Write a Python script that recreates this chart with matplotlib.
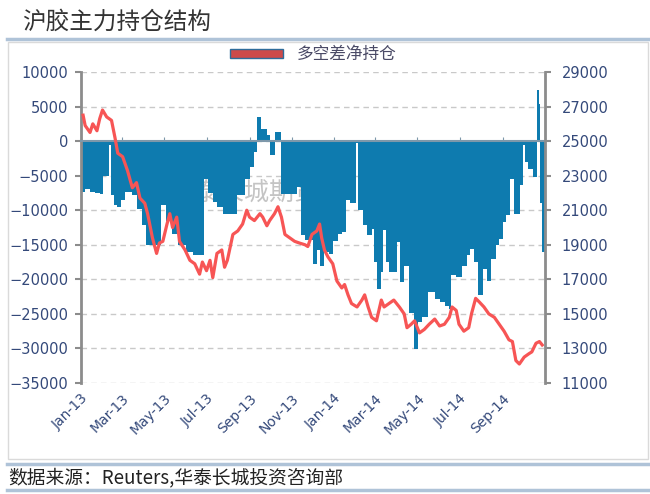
import matplotlib
matplotlib.use('Agg')
import matplotlib.pyplot as plt
import matplotlib.dates as mdates
from matplotlib.patches import Patch, Rectangle
from matplotlib.lines import Line2D
import pandas as pd

plt.rcParams['font.family'] = ['DejaVu Sans', 'Noto Sans CJK SC']

title = '沪胶主力持仓结构'
source = '数据来源：Reuters,华泰长城投资咨询部'
legend_label = '多空差净持仓'
watermark = '华泰长城期货'

# net position (left axis), value holds from each date to the next
net_dates = ['2013-01-01', '2013-01-07', '2013-01-14', '2013-01-21', '2013-01-28', '2013-02-01',
             '2013-02-11', '2013-02-13', '2013-02-18', '2013-02-22', '2013-02-27', '2013-03-06',
             '2013-03-16', '2013-03-23', '2013-03-30', '2013-04-05', '2013-04-27', '2013-05-03',
             '2013-05-12', '2013-05-21', '2013-06-02', '2013-06-12', '2013-06-28', '2013-07-03',
             '2013-07-10', '2013-07-16', '2013-07-25', '2013-08-14', '2013-08-25', '2013-09-01',
             '2013-09-08', '2013-09-12', '2013-09-18', '2013-09-26', '2013-09-30', '2013-10-07',
             '2013-10-16', '2013-11-09', '2013-11-14', '2013-11-20', '2013-12-01', '2013-12-07',
             '2013-12-12', '2013-12-17', '2013-12-24', '2013-12-31', '2014-01-07', '2014-01-12',
             '2014-01-18', '2014-01-24', '2014-02-01', '2014-02-04', '2014-02-11', '2014-02-18',
             '2014-02-24', '2014-02-27', '2014-03-04', '2014-03-09', '2014-03-13', '2014-03-17',
             '2014-03-21', '2014-04-01', '2014-04-06', '2014-04-12', '2014-04-19', '2014-04-26',
             '2014-05-02', '2014-05-08', '2014-05-17', '2014-05-26', '2014-06-02', '2014-06-10',
             '2014-06-15', '2014-06-18', '2014-06-25', '2014-07-05', '2014-07-11', '2014-07-16',
             '2014-07-21', '2014-07-27', '2014-08-03', '2014-08-09', '2014-08-15', '2014-08-22',
             '2014-08-27', '2014-09-01', '2014-09-06', '2014-09-11', '2014-09-17', '2014-09-26',
             '2014-10-01', '2014-10-03', '2014-10-08', '2014-10-14', '2014-10-20', '2014-10-23',
             '2014-10-25', '2014-10-28']
net_values = [-7400, -7000, -7300, -7500, -7700, -5000,
              -500, -7800, -9300, -9600, -8500, -7400,
              -7800, -9800, -12200, -15000, -9300, -11500,
              -13500, -15000, -16000, -16500, -5500, -7500,
              -8800, -9600, -10500, -7800, -5500, -3800,
              -1600, 3500, 1800, 900, -2000, 1300,
              -7700, -6700, -13600, -14300, -17800, -15700,
              -18000, -16000, -16300, -14500, -13500, -13200,
              -8500, -9000, -300, -10000, -12200, -13600,
              -12700, -17500, -21400, -19000, -12900, -17500,
              -19000, -14600, -20400, -18000, -24800, -30100,
              -26200, -25500, -21900, -22900, -23300, -23800,
              -24300, -19400, -19600, -18000, -16500, -15600,
              -17500, -22300, -18500, -20200, -17100, -15100,
              -14200, -11700, -10700, -5500, -10600, -6400,
              -500, -3000, -4000, -5200, 7400, 5400,
              -9000, -16000]

# rubber price (right axis)
price_dates = ['2013-01-04', '2013-01-07', '2013-01-14', '2013-01-18', '2013-01-24', '2013-01-28',
               '2013-02-01', '2013-02-07', '2013-02-14', '2013-02-19', '2013-02-23', '2013-03-02',
               '2013-03-09', '2013-03-16', '2013-03-22', '2013-03-27', '2013-04-03', '2013-04-07',
               '2013-04-14', '2013-04-20', '2013-04-24', '2013-04-29', '2013-05-05', '2013-05-09',
               '2013-05-13', '2013-05-19', '2013-05-23', '2013-05-31', '2013-06-07', '2013-06-14',
               '2013-06-21', '2013-06-25', '2013-07-01', '2013-07-06', '2013-07-10', '2013-07-16',
               '2013-07-23', '2013-07-27', '2013-07-31', '2013-08-08', '2013-08-15', '2013-08-22',
               '2013-08-28', '2013-09-01', '2013-09-08', '2013-09-16', '2013-09-20', '2013-09-26',
               '2013-09-30', '2013-10-07', '2013-10-12', '2013-10-17', '2013-10-22', '2013-10-29',
               '2013-11-05', '2013-11-12', '2013-11-20', '2013-11-24', '2013-11-30', '2013-12-07',
               '2013-12-11', '2013-12-14', '2013-12-18', '2013-12-23', '2013-12-30', '2014-01-05',
               '2014-01-12', '2014-01-16', '2014-01-21', '2014-01-26', '2014-02-03', '2014-02-10',
               '2014-02-14', '2014-02-19', '2014-02-24', '2014-03-03', '2014-03-10', '2014-03-14',
               '2014-03-21', '2014-03-28', '2014-04-05', '2014-04-12', '2014-04-16', '2014-04-22',
               '2014-04-27', '2014-05-04', '2014-05-11', '2014-05-18', '2014-05-26', '2014-06-02',
               '2014-06-09', '2014-06-16', '2014-06-20', '2014-06-26', '2014-06-30', '2014-07-07',
               '2014-07-14', '2014-07-18', '2014-07-24', '2014-07-29', '2014-08-05', '2014-08-12',
               '2014-08-20', '2014-08-27', '2014-09-03', '2014-09-10', '2014-09-15', '2014-09-20',
               '2014-09-25', '2014-10-02', '2014-10-09', '2014-10-13', '2014-10-19', '2014-10-24',
               '2014-10-28']
price_values = [26500, 25900, 25500, 26000, 25600, 26300,
                26800, 26400, 26200, 25200, 24300, 24100,
                23300, 22300, 22600, 21700, 21400, 20800,
                19400, 18500, 19100, 19200, 20200, 20800,
                20000, 20600, 19200, 18700, 18100, 17900,
                17300, 18000, 17500, 18100, 17100, 18500,
                18700, 17700, 18100, 19600, 19800, 20200,
                21000, 20600, 20400, 20800, 20600, 20100,
                20400, 20800, 21200, 20600, 19600, 19400,
                19200, 19100, 19000, 18900, 19600, 19800,
                20200, 19400, 18700, 18300, 17900, 16900,
                16500, 16700, 16100, 15600, 15400, 15800,
                16100, 15400, 14800, 14600, 15800, 15400,
                15600, 15800, 15400, 15000, 14200, 14400,
                14600, 13900, 14100, 14400, 14700, 14300,
                14400, 14800, 15400, 15200, 14400, 14000,
                14200, 15000, 15900, 15700, 15400, 15000,
                14800, 14400, 14000, 13500, 13400, 12300,
                12100, 12500, 12700, 12800, 13300, 13400,
                13200]

x_start = '2013-01-01'
x_end = '2014-11-01'

W, H = 650, 494
fig = plt.figure(figsize=(6.5, 4.94), dpi=100)


def fx(px):
    return px / W


def fy(py):
    return 1 - py / H


# page decoration
fig.text(fx(22), fy(22), title, family=['Noto Sans CJK SC'], fontsize=17,
         color='#333333', va='center', ha='left')
fig.add_artist(Line2D([fx(7), fx(650)], [fy(39), fy(39)], color='#AFC3D8', lw=2.5))
fig.add_artist(Rectangle((fx(8), fy(459)), fx(640), (459 - 42) / H, fill=False,
                         edgecolor='#DADADA', lw=1))
fig.add_artist(Line2D([fx(7), fx(650)], [fy(464), fy(464)], color='#AFC3D8', lw=2.5))
fig.text(fx(8), fy(478), source, family=['Noto Sans CJK SC'], fontsize=13.5,
         color='#222222', va='center', ha='left')
fig.add_artist(Line2D([fx(7), fx(650)], [fy(490), fy(490)], color='#AFC3D8', lw=2.5))

ax = fig.add_axes([fx(81), fy(383), fx(464), (383 - 72) / H])
ax2 = ax.twinx()

blue = '#0E7BAF'
red = '#F75555'
label_color = '#34497A'

edges = list(pd.to_datetime(net_dates)) + [pd.Timestamp(x_end)]
ax.stairs(net_values, mdates.date2num(edges), baseline=0, fill=True, color=blue, zorder=2)
ax.text(mdates.date2num(pd.Timestamp('2013-08-25')), -7500, watermark,
        family=['Noto Sans CJK SC'], fontsize=18, color='#C4C4C4', ha='center',
        va='center', zorder=1)

ax2.plot(pd.to_datetime(price_dates), price_values, color=red, lw=2.3)

ax.set_xlim(pd.Timestamp(x_start), pd.Timestamp(x_end))
ax.set_ylim(-35000, 10000)
ax.set_yticks(range(-35000, 10001, 5000))
ax2.set_ylim(11000, 29000)
ax2.set_yticks(range(11000, 29001, 2000))

ax.set_axisbelow(True)
ax.yaxis.grid(True, linestyle=(0, (4, 3)), color='#C9C9C9', lw=1)

for a in (ax, ax2):
    a.spines['top'].set_visible(False)
ax.spines['right'].set_visible(False)
ax2.spines['bottom'].set_visible(False)
ax2.spines['left'].set_visible(False)
ax.spines['left'].set_color('#8C8C8C')
ax.spines['left'].set_linewidth(2)
ax2.spines['right'].set_color('#8C8C8C')
ax2.spines['right'].set_linewidth(2)

# category axis crosses at zero
ax.spines['bottom'].set_position(('data', 0))
ax.spines['bottom'].set_color('#7E98AA')
ax.spines['bottom'].set_linewidth(1.5)
month_ticks = pd.date_range(x_start, x_end, freq='2MS')
ax.set_xticks(month_ticks)
ax.tick_params(axis='x', direction='in', length=3, color='#7E98AA', labelbottom=False)

# tick labels shown low, at the bottom of the plot area
sec = ax.secondary_xaxis(0)
sec.set_xticks(month_ticks[:-1], [d.strftime('%b-%y') for d in month_ticks[:-1]])
sec.tick_params(length=0, pad=6, labelsize=10, labelcolor=label_color)
sec.spines['bottom'].set_visible(False)
for lab in sec.get_xticklabels():
    lab.set_rotation(45)
    lab.set_ha('right')
    lab.set_rotation_mode('anchor')

ax.tick_params(axis='y', length=4, width=1.5, color='#8C8C8C', pad=5,
               labelsize=10.5, labelcolor=label_color)
ax2.tick_params(axis='y', length=4, width=1.5, color='#8C8C8C', pad=8,
                labelsize=10.5, labelcolor=label_color)

handle = Patch(facecolor='#CD4A4A', edgecolor='#2E6C9A', lw=1)
ax.legend([handle], [legend_label], loc='center', bbox_to_anchor=(0.5, 1.055),
          frameon=False, handlelength=3.2, handleheight=0.4, handletextpad=0.8,
          prop={'family': ['Noto Sans CJK SC'], 'size': 12}, labelcolor='#4A4A66')

fig.savefig('out.png', dpi=100)
